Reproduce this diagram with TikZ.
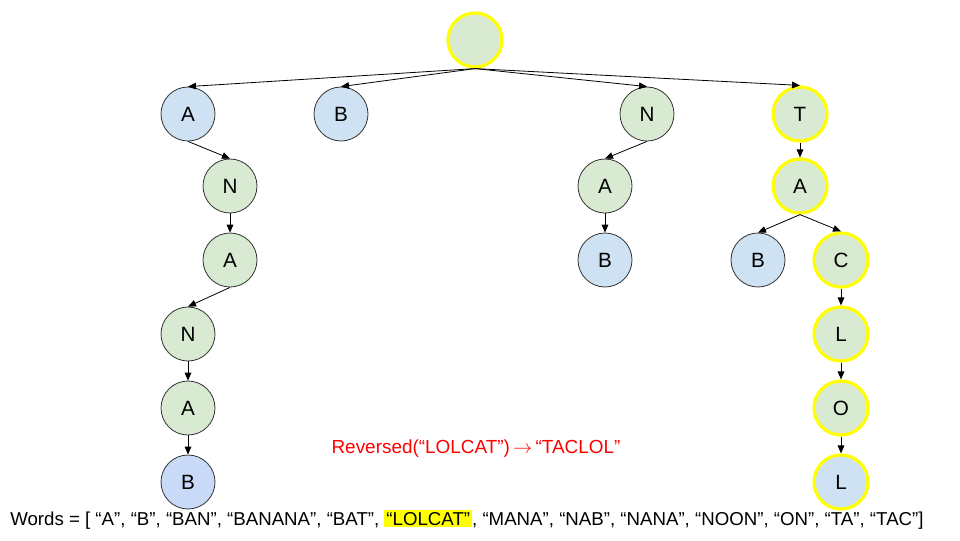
\documentclass[tikz,border=0pt]{standalone}
\usepackage{fontspec}
\setmainfont{Liberation Sans}
\usetikzlibrary{arrows.meta}
\definecolor{nblue}{HTML}{CFE2F3}
\definecolor{nblue2}{HTML}{C9DAF8}
\definecolor{ngreen}{HTML}{D9EAD3}
\definecolor{hyel}{HTML}{FFFF00}
\definecolor{rtext}{HTML}{FF0000}
\tikzset{
  trie/.style={circle,draw=black!80,line width=0.6pt,minimum size=40.5pt,inner sep=0pt,font=\fontsize{15.5}{18}\selectfont},
  bnode/.style={trie,fill=nblue},
  gnode/.style={trie,fill=ngreen},
  hl/.style={draw=hyel,line width=2.4pt},
  link/.style={-{Triangle[length=6pt,width=5pt]},line width=0.6pt,black},
}
\begin{document}
\begin{tikzpicture}[x=0.75pt,y=-0.75pt]
\useasboundingbox (0,0) rectangle (960,540);
\node[gnode,hl] (root) at (475,40) {};
\node[bnode] (a1) at (188,114) {A};
\node[bnode] (b1) at (341,114) {B};
\node[gnode] (n1) at (647,114) {N};
\node[gnode,hl] (t1) at (800,114) {T};
\node[gnode] (n2) at (230,186) {N};
\node[gnode] (a2) at (230,260) {A};
\node[gnode] (n3) at (188,334) {N};
\node[gnode] (a3) at (188,408) {A};
\node[bnode,fill=nblue2] (b2) at (188,482) {B};
\node[gnode] (a4) at (605,186) {A};
\node[bnode] (b3) at (605,260) {B};
\node[gnode,hl] (a5) at (800,186) {A};
\node[bnode] (b4) at (758,260) {B};
\node[gnode,hl] (c1) at (841,260) {C};
\node[gnode,hl] (l1) at (841,334) {L};
\node[gnode,hl] (o1) at (841,408) {O};
\node[bnode,hl] (l2) at (841,482) {L};
\draw[link] (root.south) -- (a1.north);
\draw[link] (root.south) -- (b1.north);
\draw[link] (root.south) -- (n1.north);
\draw[link] (root.south) -- (t1.north);
\draw[link] (a1.south) -- (n2.north);
\draw[link] (n2.south) -- (a2.north);
\draw[link] (a2.south) -- (n3.north);
\draw[link] (n3.south) -- (a3.north);
\draw[link] (a3.south) -- (b2.north);
\draw[link] (n1.south) -- (a4.north);
\draw[link] (a4.south) -- (b3.north);
\draw[link] (t1.south) -- (a5.north);
\draw[link] (a5.south) -- (b4.north);
\draw[link] (a5.south) -- (c1.north);
\draw[link] (c1.south) -- (l1.north);
\draw[link] (l1.south) -- (o1.north);
\draw[link] (o1.south) -- (l2.north);
\node[anchor=base,inner sep=0pt,text=rtext,font=\fontsize{14.2}{16}\selectfont] (rev) at (476,453) {Reversed(“LOLCAT”)\,$\rightarrow$\,“TACLOL”};
\node[anchor=base west,inner sep=0pt,font=\fontsize{14}{16}\selectfont] (words) at (10,525) {Words = [ “A”, “B”, “BAN”, “BANANA”, “BAT”, {\setlength{\fboxsep}{1.5pt}\colorbox{hyel}{“LOLCAT”}}, “MANA”, “NAB”, “NANA”, “NOON”, “ON”, “TA”, “TAC”]};
\end{tikzpicture}
\end{document}
